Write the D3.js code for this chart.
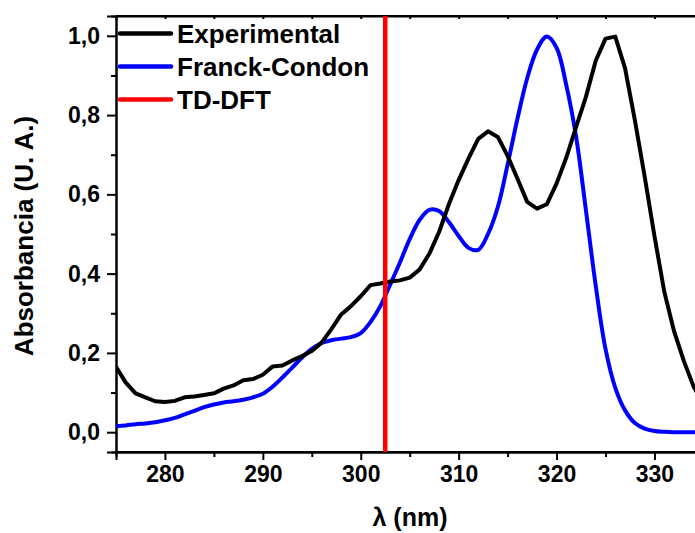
<!DOCTYPE html>
<html>
<head>
<meta charset="utf-8">
<script src="https://cdn.jsdelivr.net/npm/d3@7"></script>
<style>
  body { margin: 0; background: #fff; }
  svg { display: block; font-family: "Liberation Sans", Arial, sans-serif; font-weight: bold; }
</style>
</head>
<body>
<div id="container"></div>
<script>
// wavelengths (nm) shared by both spectra
const wavelengths = d3.range(275, 336);

// measured spectrum
const experimental = [
  0.165, 0.125, 0.098, 0.088, 0.078, 0.076, 0.079, 0.088, 0.090, 0.094,
  0.098, 0.110, 0.118, 0.131, 0.134, 0.145, 0.166, 0.168, 0.181, 0.192,
  0.205, 0.226, 0.260, 0.297, 0.318, 0.343, 0.371, 0.375, 0.380, 0.383,
  0.390, 0.410, 0.450, 0.505, 0.575, 0.636, 0.690, 0.740, 0.759, 0.745,
  0.697, 0.640, 0.581, 0.564, 0.575, 0.627, 0.693, 0.770, 0.846, 0.937,
  0.993, 0.998, 0.918, 0.787, 0.645, 0.495, 0.355, 0.255, 0.180, 0.115,
  0.070
];

// Franck-Condon simulation
const franckCondon = [
  0.015, 0.017, 0.020, 0.022, 0.025, 0.030, 0.036, 0.045, 0.054, 0.063,
  0.070, 0.075, 0.078, 0.082, 0.088, 0.097, 0.115, 0.138, 0.163, 0.188,
  0.210, 0.225, 0.232, 0.236, 0.240, 0.250, 0.278, 0.318, 0.372, 0.428,
  0.487, 0.535, 0.561, 0.558, 0.530, 0.495, 0.465, 0.460, 0.500, 0.568,
  0.675, 0.790, 0.893, 0.965, 0.998, 0.970, 0.875, 0.745, 0.560, 0.370,
  0.210, 0.112, 0.055, 0.023, 0.009, 0.003, 0.001, 0.000, 0.000, 0.000,
  0.000
];

// TD-DFT vertical transition
const tdDft = 302.5;

const legendLabels = ["Experimental", "Franck-Condon", "TD-DFT"];
const legendColors = ["#000000", "#0000ff", "#ff0000"];

const xMajor = [280, 290, 300, 310, 320, 330];
const xMinor = [285, 295, 305, 315, 325, 335];
const yMajor = [0, 0.2, 0.4, 0.6, 0.8, 1.0];
const yMinor = [0.1, 0.3, 0.5, 0.7, 0.9];

const width = 695;
const height = 533;
const plotLeft = 116;
const plotTop = 16;
const plotBottom = 452;

const x = d3.scaleLinear().domain([275, 335]).range([plotLeft, plotLeft + 60 * 9.79]);
const y = d3.scaleLinear().domain([-0.05, 1.05]).range([plotBottom, plotTop]);

const svg = d3.create("svg")
    .attr("width", width)
    .attr("height", height);

svg.append("clipPath")
    .attr("id", "plot-clip")
    .append("rect")
    .attr("x", plotLeft)
    .attr("y", plotTop)
    .attr("width", width - plotLeft)
    .attr("height", plotBottom - plotTop);

const fmt = d => d3.format(".1f")(d).replace(".", ",");

// bottom axis
const bottomAxis = svg.append("g").attr("transform", `translate(0,${plotBottom})`);
bottomAxis.call(d3.axisBottom(x).tickValues(xMajor).tickSize(8).tickPadding(6).tickFormat(d3.format("d")));
bottomAxis.append("g").call(d3.axisBottom(x).tickValues(xMinor).tickSize(5).tickFormat(""));

// top axis, ticks inward
const topAxis = svg.append("g").attr("transform", `translate(0,${plotTop})`);
topAxis.call(d3.axisBottom(x).tickValues(xMajor.concat(xMinor)).tickSize(3).tickFormat(""));

// left axis
const leftAxis = svg.append("g").attr("transform", `translate(${plotLeft},0)`);
leftAxis.call(d3.axisLeft(y).tickValues(yMajor).tickSize(9).tickPadding(7).tickFormat(fmt));
leftAxis.append("g").call(d3.axisLeft(y).tickValues(yMinor).tickSize(5).tickFormat(""));

svg.selectAll(".domain").attr("stroke-width", 2);
svg.selectAll(".tick line").attr("stroke-width", 2);
svg.selectAll(".tick text")
    .attr("font-size", "23px")
    .attr("font-weight", "bold")
    .attr("font-family", "Liberation Sans, Arial, sans-serif")
    .attr("fill", "#000");

// frame lines across the whole width
svg.append("line")
    .attr("x1", plotLeft).attr("x2", width)
    .attr("y1", plotTop).attr("y2", plotTop)
    .attr("stroke", "#000").attr("stroke-width", 2);
svg.append("line")
    .attr("x1", plotLeft).attr("x2", width)
    .attr("y1", plotBottom).attr("y2", plotBottom)
    .attr("stroke", "#000").attr("stroke-width", 2);

const plot = svg.append("g").attr("clip-path", "url(#plot-clip)");

const blueLine = d3.line()
    .x((d, i) => x(wavelengths[i]))
    .y(d => y(d))
    .curve(d3.curveCatmullRom);

const blackLine = d3.line()
    .x((d, i) => x(wavelengths[i]))
    .y(d => y(d));

plot.append("path")
    .attr("d", blueLine(franckCondon))
    .attr("fill", "none")
    .attr("stroke", "#0000ff")
    .attr("stroke-width", 4)
    .attr("stroke-linejoin", "round");

plot.append("path")
    .attr("d", blackLine(experimental))
    .attr("fill", "none")
    .attr("stroke", "#000")
    .attr("stroke-width", 4)
    .attr("stroke-linejoin", "round");

plot.append("line")
    .attr("x1", x(tdDft)).attr("x2", x(tdDft))
    .attr("y1", plotTop).attr("y2", plotBottom)
    .attr("stroke", "#ff0000")
    .attr("stroke-width", 4.5);

// legend
const legend = svg.append("g");
legendLabels.forEach((label, i) => {
    const ly = 33.5 + i * 33;
    legend.append("line")
        .attr("x1", 120).attr("x2", 171)
        .attr("y1", ly).attr("y2", ly)
        .attr("stroke", legendColors[i])
        .attr("stroke-width", 4.5)
        .attr("stroke-linecap", "round");
    legend.append("text")
        .attr("x", 177)
        .attr("y", ly + 9)
        .attr("font-size", "26px")
        .attr("fill", "#000")
        .text(label);
});

// axis titles
svg.append("text")
    .attr("transform", "translate(33,236) rotate(-90)")
    .attr("text-anchor", "middle")
    .attr("font-size", "26px")
    .text("Absorbancia (U. A.)");

svg.append("text")
    .attr("x", 410)
    .attr("y", 526)
    .attr("text-anchor", "middle")
    .attr("font-size", "25px")
    .text("λ (nm)");

d3.select("#container").append(() => svg.node());
</script>
</body>
</html>
